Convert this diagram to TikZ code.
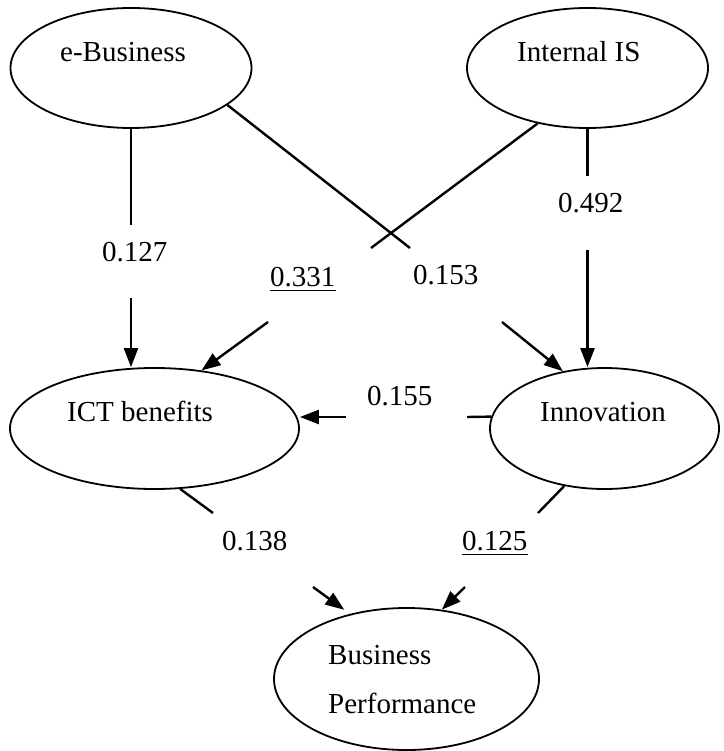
\documentclass[tikz,border=0pt]{standalone}
\usepackage{fontspec}
\setmainfont{Liberation Serif}
\usetikzlibrary{arrows.meta,shapes.geometric}
\begin{document}
\begin{tikzpicture}[x=1pt,y=-1pt,
  ell/.style={draw, ellipse, line width=1.8pt, inner sep=0pt},
  txt/.style={anchor=base west, inner sep=0pt, font=\fontsize{29}{35}\selectfont},
  conn/.style={line width=2.4pt},
  arr/.style={conn, -{Triangle[length=19pt,width=14pt]}}]
\useasboundingbox (0,0) rectangle (723,751);
% ellipses
\node[ell, minimum width=241pt, minimum height=120pt] (eb) at (131,68) {};
\node[ell, minimum width=241pt, minimum height=120pt] (iis) at (587.5,68) {};
\node[ell, minimum width=289pt, minimum height=121pt] (ict) at (154.5,428.5) {};
\node[ell, minimum width=229pt, minimum height=121pt] (inn) at (604.5,428.5) {};
\node[ell, minimum width=265pt, minimum height=142pt] (bp) at (406.5,679) {};
% texts
\node[txt] (ebt) at (60,62) {e-Business};
\node[txt] (iist) at (517,62) {Internal IS};
\node[txt] (ictt) at (67,421) {ICT benefits};
\node[txt] (innt) at (540,421) {Innovation};
\node[txt] (bpt1) at (328,664) {Business};
\node[txt] (bpt2) at (328,713) {Performance};
% labels
\node[txt] (l127) at (102,261) {0.127};
\node[txt] (l492) at (558,213) {0.492};
\node[txt] (l331) at (270,286) {0.331};
\node[txt] (l153) at (413,284) {0.153};
\node[txt] (l155) at (367,405) {0.155};
\node[txt] (l138) at (222,550) {0.138};
\node[txt] (l125) at (462,550) {0.125};
\draw[line width=1.6pt] ([yshift=-4.5pt]l331.base west) -- ([yshift=-4.5pt]l331.base east);
\draw[line width=1.6pt] ([yshift=-4.5pt]l125.base west) -- ([yshift=-4.5pt]l125.base east);
% gap coordinates
\coordinate (a1) at (131,225); \coordinate (a2) at (131,298);
\coordinate (b1) at (587.5,176); \coordinate (b2) at (587.5,250);
\coordinate (c1) at (410,248); \coordinate (c2) at (502,322);
\coordinate (d1) at (371,248); \coordinate (d2) at (268,322);
\coordinate (e1) at (467,417); \coordinate (e2) at (346,417);
\coordinate (f1) at (213,513); \coordinate (f2) at (313,587);
\coordinate (g1) at (538,513); \coordinate (g2) at (465,587);
% connectors
\draw[conn] (eb.south) -- (a1);
\draw[arr] (a2) -- (ict.north -| a2);
\draw[conn] (iis.south) -- (b1);
\draw[arr] (b2) -- (inn.north -| b2);
\draw[conn] (eb.-21) -- (c1);
\draw[arr] (c2) -- (inn.126);
\draw[conn] (iis.228) -- (d1);
\draw[arr] (d2) -- (ict.51);
\draw[conn] (inn.174) -- (e1);
\draw[arr] (e2) -- (ict.east |- e2);
\draw[conn] (ict.-67) -- (f1);
\draw[arr, shorten >=7pt] (f2) -- (bp.131);
\draw[conn] (inn.-125) -- (g1);
\draw[arr] (g2) -- (bp.63);
\end{tikzpicture}
\end{document}
